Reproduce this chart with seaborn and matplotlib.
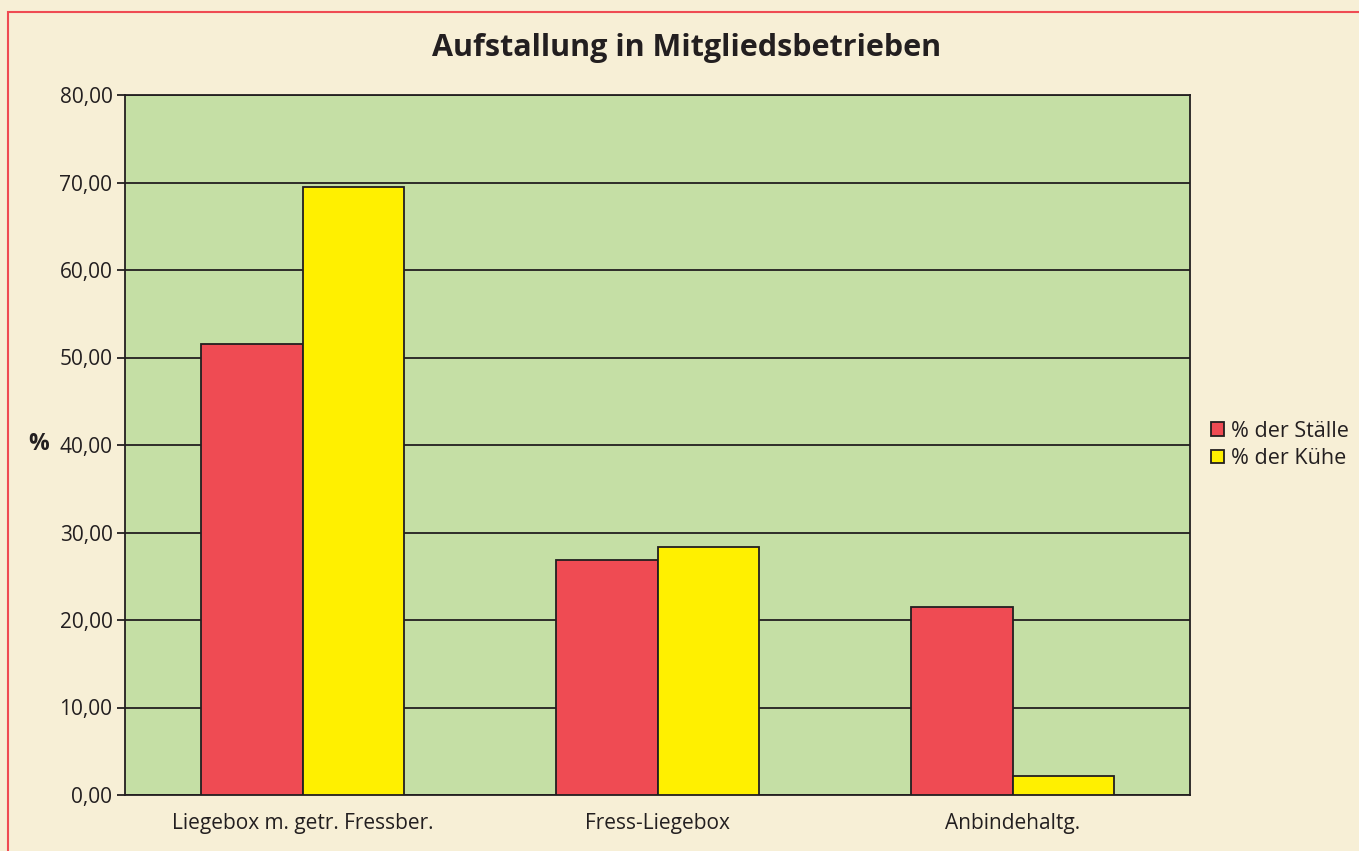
import matplotlib.pyplot as plt
import matplotlib.patches as mpatches
import seaborn as sns
import pandas as pd

# data
categories = ["Liegebox m. getr. Fressber.", "Fress-Liegebox", "Anbindehaltg."]
staelle = [51.6, 26.9, 21.5]
kuehe = [69.5, 28.3, 2.2]
series_names = ["% der Ställe", "% der Kühe"]
y_ticks = [0, 10, 20, 30, 40, 50, 60, 70, 80]

df = pd.DataFrame({
    "Kategorie": categories * 2,
    "Serie": [series_names[0]] * 3 + [series_names[1]] * 3,
    "Wert": staelle + kuehe,
})

bg = "#F7EFD6"
plot_bg = "#C5DFA5"
red = "#EF4B53"
yellow = "#FFF000"
dark = "#231F20"

sns.set_style("white")
plt.rcParams["font.family"] = ["Open Sans", "DejaVu Sans"]

fig = plt.figure(figsize=(13.59, 8.51), dpi=100, facecolor=bg)
ax = fig.add_axes([125 / 1359, 1 - 795 / 851, (1190 - 125) / 1359, (795 - 95) / 851])
ax.set_facecolor(plot_bg)

sns.barplot(data=df, x="Kategorie", y="Wert", hue="Serie",
            palette=[red, yellow], saturation=1, width=0.57,
            edgecolor=dark, linewidth=1.3, ax=ax, legend=True, zorder=3)

ax.set_ylim(0, 80)
ax.set_xlim(-0.5, 2.5)
ax.set_yticks(y_ticks)
ax.set_yticklabels([f"{v:.2f}".replace(".", ",") for v in y_ticks], fontsize=15, color=dark)
ax.yaxis.grid(True, color=dark, linewidth=1.3, zorder=1)
ax.set_axisbelow(True)

ax.set_xticks(range(len(categories)))
ax.set_xticklabels(categories, fontsize=15, color=dark)
ax.set_xticks([-0.5, 0.5, 1.5, 2.5], minor=True)
ax.tick_params(axis="x", which="major", length=0, pad=13)
ax.tick_params(axis="x", which="minor", length=6, width=1.3, color=dark, direction="out")
ax.tick_params(axis="y", length=6, width=1.3, color=dark, direction="out", pad=3, left=True)

for s in ax.spines.values():
    s.set_visible(True)
    s.set_color(dark)
    s.set_linewidth(1.3)

ax.set_xlabel("")
ax.set_ylabel("%", fontsize=16.5, fontweight="bold", rotation=0, color=dark, labelpad=0)
ax.yaxis.set_label_coords(-0.081, 0.485)

fig.suptitle("Aufstallung in Mitgliedsbetrieben", x=687 / 1359, y=1 - 48 / 851,
             va="center", fontsize=22, fontweight="bold", color=dark)

handles, labels = ax.get_legend_handles_labels()
ax.legend(handles, labels, loc="center left", bbox_to_anchor=(1.012, 0.5),
          frameon=False, fontsize=15.5, handlelength=0.6, handleheight=0.6,
          handletextpad=0.3, labelspacing=0.3, labelcolor=dark, borderaxespad=0)

# red frame around the chart
fig.patches.append(mpatches.Rectangle((8 / 1359, -0.1), 1.2, 1 - 12 / 851 + 0.1,
                                      transform=fig.transFigure, fill=False,
                                      edgecolor=red, linewidth=1.5))

fig.savefig("out.png", dpi=100, facecolor=bg)
